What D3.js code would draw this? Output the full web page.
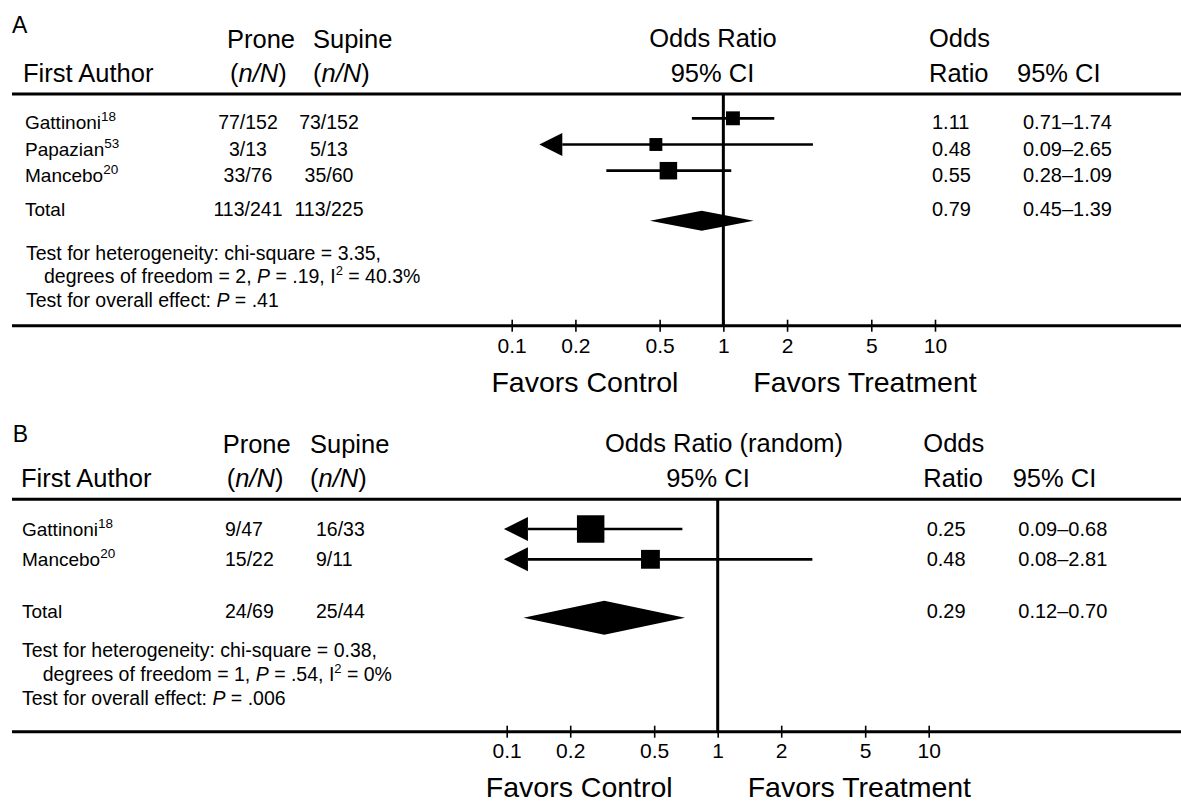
<!DOCTYPE html>
<html>
<head>
<meta charset="utf-8">
<script src="https://cdn.jsdelivr.net/npm/d3@7"></script>
<style>
  body { margin: 0; background: #fff; }
  svg { display: block; }
  text { font-family: "Liberation Sans", Arial, Helvetica, sans-serif; fill: #000; }
</style>
</head>
<body>
<svg width="1181" height="802"></svg>
<script>
// ---- data, panel A (prone vs supine, fixed) ----
var studiesA = ["Gattinoni", "Papazian", "Mancebo"];
var refsA = ["18", "53", "20"];
var proneA = ["77/152", "3/13", "33/76"];
var supineA = ["73/152", "5/13", "35/60"];
var orA = [1.11, 0.48, 0.55];
var loA = [0.71, 0.09, 0.28];
var hiA = [1.74, 2.65, 1.09];
var weightA = [29, 25, 46];
var totalCountsA = ["113/241", "113/225"];
var totalA = [0.79, 0.45, 1.39]; // or, lo, hi
var testsA = [
  [["Test for heterogeneity: chi-square = 3.35,"]],
  [["degrees of freedom = 2, "], ["P", "i"], [" = .19, I"], ["2", "sup"], [" = 40.3%"]],
  [["Test for overall effect: "], ["P", "i"], [" = .41"]]
];

// ---- data, panel B (random) ----
var studiesB = ["Gattinoni", "Mancebo"];
var refsB = ["18", "20"];
var proneB = ["9/47", "15/22"];
var supineB = ["16/33", "9/11"];
var orB = [0.25, 0.48];
var loB = [0.09, 0.08];
var hiB = [0.68, 2.81];
var weightB = [68, 32];
var totalCountsB = ["24/69", "25/44"];
var totalB = [0.29, 0.12, 0.70];
var testsB = [
  [["Test for heterogeneity: chi-square = 0.38,"]],
  [["degrees of freedom = 1, "], ["P", "i"], [" = .54, I"], ["2", "sup"], [" = 0%"]],
  [["Test for overall effect: "], ["P", "i"], [" = .006"]]
];

var tickVals = [0.1, 0.2, 0.5, 1, 2, 5, 10];
var tickLabels = ["0.1", "0.2", "0.5", "1", "2", "5", "10"];

var fmt = d3.format(".2f");
var svg = d3.select("svg");
var W = 1181;

var panels = [
  {
    letter: "A", title: "Odds Ratio", studies: studiesA, refs: refsA, prone: proneA, supine: supineA,
    or: orA, lo: loA, hi: hiA, w: weightA, totalCounts: totalCountsA, total: totalA, tests: testsA,
    xr: [511.7, 935], arrowMin: 0.135, arrow: 23, sqMax: 25.8, diaH: 20,
    letterPos: [12, 33], h1: 48, h2: 82, proneX: 227, supineX: 313, nNx: [230, 313], faX: 23,
    titleX: 713, ciX: 712.5, oddsX: 929, ciColX: 1017, rule: 94,
    nameX: 25, colAnchor: "middle", proneCol: 248, supineCol: 329, orX: 932, ciValX: 1023,
    rowY0: 118.3, rowStep: 26.2, textDy: 11, totalY: 220.7, totalDy: -4.7,
    testX: 26, testIndent: 44, testY0: 260, testStep: 23.4,
    axisY: 325.7, tickY: 353, favY: 391.7
  },
  {
    letter: "B", title: "Odds Ratio (random)", studies: studiesB, refs: refsB, prone: proneB, supine: supineB,
    or: orB, lo: loB, hi: hiB, w: weightB, totalCounts: totalCountsB, total: totalB, tests: testsB,
    xr: [506.7, 928.7], arrowMin: 0.097, arrow: 24, sqMax: 33.3, diaH: 34,
    letterPos: [12.7, 441.7], h1: 453.3, h2: 487.3, proneX: 222.7, supineX: 310, nNx: [226.7, 310], faX: 21,
    titleX: 724, ciX: 708, oddsX: 923.3, ciColX: 1012.7, rule: 499.3,
    nameX: 22, colAnchor: "start", proneCol: 225, supineCol: 316, orX: 926.7, ciValX: 1018.3,
    rowY0: 529, rowStep: 30.3, textDy: 6.5, totalY: 617.7, totalDy: 0.6,
    testX: 22, testIndent: 42.7, testY0: 656.7, testStep: 24.2,
    axisY: 731.7, tickY: 758, favY: 796.7
  }
];

panels.forEach(function(p) {
  var g = svg.append("g");
  var x = d3.scaleLog().domain([0.1, 10]).range(p.xr);
  var side = d3.scaleSqrt().domain([0, 100]).range([0, p.sqMax]);
  var rowY = function(i) { return p.rowY0 + i * p.rowStep; };

  function txt(xp, yp, s, size, anchor) {
    return g.append("text").attr("x", xp).attr("y", yp)
      .attr("font-size", size).attr("text-anchor", anchor || "start").text(s);
  }

  // headers
  txt(p.letterPos[0], p.letterPos[1], p.letter, 23);
  txt(p.proneX, p.h1, "Prone", 25.5);
  txt(p.supineX, p.h1, "Supine", 25.5);
  txt(p.faX, p.h2, "First Author", 25.5);
  p.nNx.forEach(function(nx) {
    var t = g.append("text").attr("x", nx).attr("y", p.h2).attr("font-size", 25.5);
    t.append("tspan").text("(");
    t.append("tspan").attr("font-style", "italic").text("n/N");
    t.append("tspan").text(")");
  });
  txt(p.titleX, p.h1 - 1, p.title, 25.5, "middle");
  txt(p.ciX, p.h2, "95% CI", 25.5, "middle");
  txt(p.oddsX, p.h1 - 1, "Odds", 25.5);
  txt(p.oddsX, p.h2, "Ratio", 25.5);
  txt(p.ciColX, p.h2, "95% CI", 25.5);

  g.append("line").attr("x1", 12).attr("x2", W).attr("y1", p.rule).attr("y2", p.rule)
    .attr("stroke", "#000").attr("stroke-width", 3);

  // study rows text
  p.studies.forEach(function(s, i) {
    var y = rowY(i) + p.textDy;
    var t = g.append("text").attr("x", p.nameX).attr("y", y).attr("font-size", 19);
    t.append("tspan").text(s);
    t.append("tspan").attr("font-size", 13.5).attr("dy", -8).text(p.refs[i]);
    txt(p.proneCol, y, p.prone[i], 19.5, p.colAnchor);
    txt(p.supineCol, y, p.supine[i], 19.5, p.colAnchor);
    txt(p.orX, y, fmt(p.or[i]), 20);
    txt(p.ciValX, y, fmt(p.lo[i]) + "\u2013" + fmt(p.hi[i]), 20);
  });

  var ty = p.totalY + p.totalDy;
  txt(p.nameX, ty, "Total", 19);
  txt(p.proneCol, ty, p.totalCounts[0], 19.5, p.colAnchor);
  txt(p.supineCol, ty, p.totalCounts[1], 19.5, p.colAnchor);
  txt(p.orX, ty, fmt(p.total[0]), 20);
  txt(p.ciValX, ty, fmt(p.total[1]) + "\u2013" + fmt(p.total[2]), 20);

  // test lines
  p.tests.forEach(function(parts, i) {
    var t = g.append("text").attr("x", i === 1 ? p.testIndent : p.testX)
      .attr("y", p.testY0 + i * p.testStep).attr("font-size", 19.5);
    var afterSup = false;
    parts.forEach(function(part) {
      var sp = t.append("tspan").text(part[0]);
      if (afterSup) { sp.attr("dy", 8); afterSup = false; }
      if (part[1] === "i") sp.attr("font-style", "italic");
      if (part[1] === "sup") {
        sp.attr("font-size", 13).attr("dy", -8);
        afterSup = true;
      }
    });
  });

  // vertical line of no effect
  g.append("line").attr("x1", x(1)).attr("x2", x(1)).attr("y1", p.rule).attr("y2", p.axisY)
    .attr("stroke", "#000").attr("stroke-width", 3);

  // CI lines + arrows
  p.studies.forEach(function(s, i) {
    var y = rowY(i);
    var clipped = p.lo[i] < p.arrowMin;
    var x0 = clipped ? x(p.arrowMin) + p.arrow : x(p.lo[i]);
    g.append("line").attr("x1", x0).attr("x2", x(p.hi[i])).attr("y1", y).attr("y2", y)
      .attr("stroke", "#000").attr("stroke-width", 2.7);
    if (clipped) {
      var tip = x(p.arrowMin);
      g.append("path")
        .attr("d", "M" + tip + "," + y + "L" + (tip + p.arrow) + "," + (y - p.arrow / 2) +
          "L" + (tip + p.arrow) + "," + (y + p.arrow / 2) + "Z")
        .attr("fill", "#000");
    }
    var sd = side(p.w[i]);
    g.append("rect").attr("x", x(p.or[i]) - sd / 2).attr("y", y - sd / 2)
      .attr("width", sd).attr("height", sd).attr("fill", "#000");
  });

  // pooled diamond
  var dy = p.totalY, h = p.diaH / 2;
  g.append("path")
    .attr("d", "M" + x(p.total[1]) + "," + dy + "L" + x(p.total[0]) + "," + (dy - h) +
      "L" + x(p.total[2]) + "," + dy + "L" + x(p.total[0]) + "," + (dy + h) + "Z")
    .attr("fill", "#000");

  // bottom rule + axis
  g.append("line").attr("x1", 12).attr("x2", W).attr("y1", p.axisY).attr("y2", p.axisY)
    .attr("stroke", "#000").attr("stroke-width", 3);
  var ax = g.append("g").attr("transform", "translate(0," + p.axisY + ")")
    .call(d3.axisBottom(x).tickValues(tickVals)
      .tickFormat(function(d, i) { return tickLabels[i]; })
      .tickSizeOuter(0).tickSizeInner(6));
  ax.select(".domain").remove();
  ax.selectAll(".tick line").attr("y1", -6).attr("y2", 6).attr("stroke", "#000").attr("stroke-width", 1.6);
  ax.selectAll(".tick text").attr("y", p.tickY - p.axisY).attr("dy", null)
    .attr("font-size", 21).attr("font-family", "Liberation Sans, Arial, sans-serif").attr("fill", "#000");

  txt(x(1) - 45, p.favY, "Favors Control", 28.5, "end");
  txt(x(1) + 30, p.favY, "Favors Treatment", 28.5);
});
</script>
</body>
</html>
